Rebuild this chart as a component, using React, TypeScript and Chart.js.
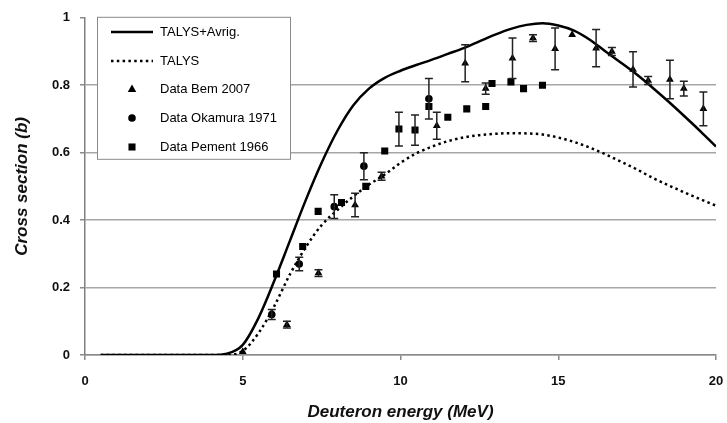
import React, { useEffect, useRef } from "react";
import { Chart, registerables } from "chart.js";
Chart.register(...registerables);

// Model curves (energy grid in MeV, cross section in b)
const energyGrid = [0.5, 1, 1.5, 2, 2.5, 3, 3.5, 4, 4.5, 5, 5.5, 6, 6.5, 7, 7.5, 8, 8.5, 9, 9.5, 10, 10.5, 11, 11.5, 12, 12.5, 13, 13.5, 14, 14.5, 15, 15.5, 16, 16.5, 17, 17.5, 18, 18.5, 19, 19.5, 20];
const talysAvrig = [0, 0, 0, 0, 0, 0, 0, 0, 0.004, 0.03, 0.11, 0.22, 0.34, 0.46, 0.57, 0.665, 0.74, 0.79, 0.822, 0.843, 0.86, 0.876, 0.893, 0.91, 0.93, 0.95, 0.967, 0.979, 0.984, 0.977, 0.962, 0.935, 0.9, 0.866, 0.831, 0.792, 0.751, 0.708, 0.664, 0.618];
const talys = [0, 0, 0, 0, 0, 0, 0, 0, 0, 0.012, 0.065, 0.145, 0.24, 0.32, 0.385, 0.43, 0.47, 0.505, 0.535, 0.57, 0.598, 0.618, 0.634, 0.645, 0.652, 0.656, 0.658, 0.657, 0.654, 0.645, 0.632, 0.615, 0.595, 0.573, 0.55, 0.525, 0.503, 0.482, 0.462, 0.443];

// Data Bem 2007
const bemE = [5.0, 6.4, 7.4, 8.56, 9.4, 11.15, 12.05, 12.7, 13.55, 14.2, 14.9, 15.44, 16.2, 16.7, 17.37, 17.85, 18.54, 18.98, 19.6];
const bemS = [0.01, 0.09, 0.243, 0.445, 0.53, 0.68, 0.865, 0.79, 0.88, 0.94, 0.908, 0.95, 0.91, 0.9, 0.847, 0.814, 0.817, 0.79, 0.73];
const bemErr = [0, 0.01, 0.01, 0.035, 0.012, 0.04, 0.055, 0.017, 0.06, 0.01, 0.062, 0, 0.055, 0.012, 0.052, 0.012, 0.057, 0.022, 0.05];

// Data Okamura 1971
const okaE = [5.92, 6.79, 7.9, 8.84, 10.9];
const okaS = [0.12, 0.27, 0.44, 0.56, 0.76];
const okaErr = [0.015, 0.02, 0.035, 0.04, 0.06];

// Data Pement 1966
const pemE = [6.07, 6.9, 7.39, 8.13, 8.9, 9.5, 9.95, 10.46, 10.9, 11.5, 12.1, 12.7, 12.9, 13.5, 13.9, 14.5];
const pemS = [0.24, 0.322, 0.426, 0.452, 0.5, 0.605, 0.67, 0.667, 0.737, 0.705, 0.73, 0.737, 0.805, 0.81, 0.79, 0.8];
const pemErr = [0, 0, 0, 0, 0, 0, 0.05, 0.045, 0, 0, 0, 0, 0, 0, 0, 0];

const xTicks = [0, 5, 10, 15, 20];
const yTicks = [0, 0.2, 0.4, 0.6, 0.8, 1];

const FONT = '"Liberation Sans", Arial, Helvetica, sans-serif';

const errSeries = [
  { e: bemE, v: bemS, err: bemErr },
  { e: okaE, v: okaS, err: okaErr },
  { e: pemE, v: pemS, err: pemErr },
];

const errorBarPlugin = {
  id: "errBars",
  afterDatasetsDraw(chart: any) {
    const { ctx, scales } = chart;
    const x = scales.x, y = scales.y;
    ctx.save();
    ctx.strokeStyle = "#222";
    ctx.lineWidth = 1.5;
    errSeries.forEach((s) => {
      s.e.forEach((e, i) => {
        const d = s.err[i];
        if (!d) return;
        const px = x.getPixelForValue(e);
        const t = y.getPixelForValue(s.v[i] + d);
        const b = y.getPixelForValue(s.v[i] - d);
        ctx.beginPath();
        ctx.moveTo(px, t);
        ctx.lineTo(px, b);
        ctx.moveTo(px - 4, t);
        ctx.lineTo(px + 4, t);
        ctx.moveTo(px - 4, b);
        ctx.lineTo(px + 4, b);
        ctx.stroke();
      });
    });
    ctx.restore();
  },
};

function drawMarker(ctx: CanvasRenderingContext2D, style: string, cx: number, cy: number, r: number) {
  ctx.beginPath();
  if (style === "triangle") {
    ctx.moveTo(cx, cy - r);
    ctx.lineTo(cx + r * 0.95, cy + r * 0.65);
    ctx.lineTo(cx - r * 0.95, cy + r * 0.65);
    ctx.closePath();
  } else if (style === "circle") {
    ctx.arc(cx, cy, r, 0, Math.PI * 2);
  } else {
    const h = r * Math.SQRT1_2;
    ctx.rect(cx - h, cy - h, 2 * h, 2 * h);
  }
  ctx.fill();
}

const boxLegendPlugin = {
  id: "boxLegend",
  afterDraw(chart: any) {
    const ctx = chart.ctx as CanvasRenderingContext2D;
    const a = chart.chartArea;
    const x0 = a.left + 12;
    const y0 = a.top - 1;
    const w = 193;
    const h = 142;
    ctx.save();
    ctx.fillStyle = "#ffffff";
    ctx.fillRect(x0, y0, w, h);
    ctx.strokeStyle = "#8a8a8a";
    ctx.lineWidth = 1;
    ctx.strokeRect(x0 + 0.5, y0 + 0.5, w, h);
    const rowH = 28.7;
    chart.data.datasets.forEach((ds: any, i: number) => {
      const cy = Math.round(y0 + 15 + i * rowH);
      const sx = x0 + 14;
      const ex = x0 + 56;
      const mx = (sx + ex) / 2;
      if (ds.showLine) {
        ctx.beginPath();
        ctx.setLineDash(ds.borderDash || []);
        ctx.lineWidth = ds.borderWidth;
        ctx.strokeStyle = ds.borderColor;
        ctx.moveTo(sx, cy);
        ctx.lineTo(ex, cy);
        ctx.stroke();
        ctx.setLineDash([]);
      } else {
        ctx.fillStyle = "#000";
        drawMarker(ctx, ds.pointStyle, mx, cy, ds.pointStyle === "circle" ? 3.8 : ds.pointStyle === "triangle" ? 4.5 : 5);
      }
      ctx.fillStyle = "#000";
      ctx.font = `13px ${FONT}`;
      ctx.textBaseline = "middle";
      ctx.textAlign = "left";
      ctx.fillText(ds.label, x0 + 63, cy);
    });
    ctx.restore();
  },
};

export default function App() {
  const ref = useRef<HTMLCanvasElement | null>(null);
  useEffect(() => {
    if (!ref.current) return;
    const curve = (ys: number[]) => energyGrid.map((e, i) => ({ x: e, y: ys[i] }));
    const pts = (es: number[], vs: number[]) => es.map((e, i) => ({ x: e, y: vs[i] }));
    const chart = new Chart(ref.current, {
      type: "scatter",
      data: {
        datasets: [
          {
            label: "TALYS+Avrig.",
            data: curve(talysAvrig),
            showLine: true,
            borderColor: "#000",
            borderWidth: 2.5,
            pointRadius: 0,
            cubicInterpolationMode: "monotone",
          } as any,
          {
            label: "TALYS",
            data: curve(talys),
            showLine: true,
            borderColor: "#000",
            borderWidth: 2.5,
            borderDash: [2.5, 3.3],
            pointRadius: 0,
            cubicInterpolationMode: "monotone",
          } as any,
          {
            label: "Data Bem 2007",
            data: pts(bemE, bemS),
            pointStyle: "triangle",
            pointRadius: 4.5,
            backgroundColor: "#000",
            borderColor: "#000",
            borderWidth: 0,
          },
          {
            label: "Data Okamura 1971",
            data: pts(okaE, okaS),
            pointStyle: "circle",
            pointRadius: 3.8,
            backgroundColor: "#000",
            borderColor: "#000",
            borderWidth: 0,
          },
          {
            label: "Data Pement 1966",
            data: pts(pemE, pemS),
            pointStyle: "rect",
            pointRadius: 5,
            backgroundColor: "#000",
            borderColor: "#000",
            borderWidth: 0,
          },
        ],
      },
      options: {
        animation: false,
        responsive: false,
        maintainAspectRatio: false,
        layout: { padding: { left: 0, right: 0, top: 16, bottom: 0 } },
        plugins: { legend: { display: false }, tooltip: { enabled: false } },
        scales: {
          x: {
            type: "linear",
            min: 0,
            max: 20,
            afterBuildTicks: (s: any) => {
              s.ticks = xTicks.map((v) => ({ value: v }));
            },
            ticks: {
              font: { family: FONT, size: 13, weight: "bold" },
              color: "#111",
              padding: 14,
              maxRotation: 0,
            },
            grid: { drawOnChartArea: false, tickLength: 5, tickColor: "#8a8a8a", lineWidth: 1.5 },
            border: { color: "#8a8a8a", width: 1.5 },
            title: {
              display: true,
              text: "Deuteron energy (MeV)",
              font: { family: FONT, size: 17, weight: "bold", style: "italic" },
              color: "#111",
              padding: { top: 0, bottom: 0 },
            },
            afterFit: (s: any) => {
              s.height = 68;
              s.paddingRight = 11;
              s.paddingLeft = 0;
            },
          },
          y: {
            type: "linear",
            min: 0,
            max: 1,
            afterBuildTicks: (s: any) => {
              s.ticks = yTicks.map((v) => ({ value: v }));
            },
            ticks: {
              font: { family: FONT, size: 13, weight: "bold" },
              color: "#111",
              padding: 10,
              callback: (v: any) => String(Math.round(Number(v) * 10) / 10),
            },
            grid: {
              color: (c: any) => (c.tick && c.tick.value === 1 ? "rgba(0,0,0,0)" : "#a6a6a6"),
              tickColor: "#8a8a8a",
              tickLength: 5,
              lineWidth: 1.5,
            },
            border: { color: "#7f7f7f", width: 1.5 },
            title: {
              display: true,
              text: "Cross section (b)",
              font: { family: FONT, size: 17, weight: "bold", style: "italic" },
              color: "#111",
              padding: { top: 12, bottom: 0 },
            },
            afterFit: (s: any) => {
              s.width = 85;
            },
          },
        },
      },
      plugins: [errorBarPlugin, boxLegendPlugin],
    });
    return () => chart.destroy();
  }, []);
  return (
    <div style={{ position: "absolute", left: 0, top: 0, width: 727, height: 423, background: "#fff" }}>
      <canvas ref={ref} width={727} height={423} style={{ display: "block" }} />
    </div>
  );
}
